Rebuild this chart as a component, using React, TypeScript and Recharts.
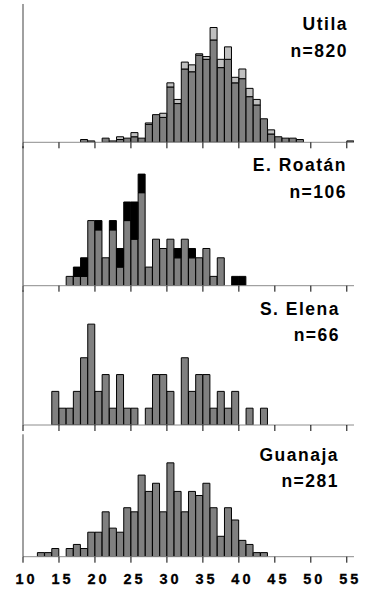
import { BarChart, Bar, XAxis, YAxis } from "recharts";

// 1-unit bins, left edge of each bin
const BINS = [
  10, 11, 12, 13, 14, 15, 16, 17, 18, 19,
  20, 21, 22, 23, 24, 25, 26, 27, 28, 29,
  30, 31, 32, 33, 34, 35, 36, 37, 38, 39,
  40, 41, 42, 43, 44, 45, 46, 47, 48, 49,
  50, 51, 52, 53, 54, 55,
];
const X_TICKS = [10, 15, 20, 25, 30, 35, 40, 45, 50, 55];
const X_DOMAIN = [10, 56];

const SITES = ["Utila", "E. Roatán", "S. Elena", "Guanaja"];
const SAMPLE_SIZES = [820, 106, 66, 281];

// counts per bin
const utilaDark = [
  0, 0, 0, 0, 0, 0, 0, 0, 2, 1,
  0, 3, 1, 2, 3, 4, 3, 13, 20, 18,
  40, 28, 53, 51, 63, 60, 74, 54, 60, 43,
  46, 33, 27, 17, 6, 4, 3, 3, 2, 0,
  0, 0, 0, 0, 0, 1,
];
const utilaLight = [
  0, 0, 0, 0, 0, 0, 0, 0, 0, 0,
  0, 0, 0, 2, 0, 3, 0, 1, 0, 3,
  3, 3, 5, 5, 1, 2, 9, 6, 9, 4,
  7, 6, 4, 0, 3, 0, 0, 0, 0, 0,
  0, 0, 0, 0, 0, 0,
];
const roatanGray = [
  0, 0, 0, 0, 0, 0, 1, 1, 1, 7,
  6, 3, 6, 2, 7, 5, 10, 2, 5, 4,
  5, 3, 5, 3, 3, 4, 1, 3, 0, 0,
  0, 0, 0, 0, 0, 0, 0, 0, 0, 0,
  0, 0, 0, 0, 0, 0,
];
const roatanBlack = [
  0, 0, 0, 0, 0, 0, 0, 1, 2, 0,
  1, 0, 1, 2, 2, 4, 2, 0, 0, 0,
  0, 1, 0, 1, 0, 0, 0, 0, 0, 1,
  1, 0, 0, 0, 0, 0, 0, 0, 0, 0,
  0, 0, 0, 0, 0, 0,
];
const elena = [
  0, 0, 0, 0, 2, 1, 1, 2, 4, 6,
  2, 3, 1, 3, 1, 1, 0, 1, 3, 3,
  2, 0, 4, 2, 3, 3, 1, 2, 1, 2,
  0, 1, 0, 1, 0, 0, 0, 0, 0, 0,
  0, 0, 0, 0, 0, 0,
];
const guanaja = [
  0, 0, 1, 1, 2, 0, 2, 3, 2, 6,
  6, 11, 7, 6, 12, 11, 20, 16, 18, 11,
  23, 16, 11, 16, 15, 18, 12, 5, 12, 9,
  4, 3, 1, 1, 0, 0, 0, 0, 0, 0,
  0, 0, 0, 0, 0, 0,
];

const GRAY = "#808080";
const LIGHT = "#c0c0c0";
const BLACK = "#000000";
const FONT = "'Liberation Sans', Arial, sans-serif";
const W = 368;
const M_LEFT = 22;
const M_RIGHT = 14;
const Y_AXIS_W = 1;
const PLOT_LEFT = M_LEFT + Y_AXIS_W;
const PLOT_RIGHT = W - M_RIGHT;
const AXIS_H = 30;
const TICK_LEN = 6;

function toRows(base: number[], cap?: number[]) {
  return BINS.map((bin, i) => ({ x: bin + 0.5, base: base[i], cap: cap ? cap[i] : 0 }));
}

const renderTick = (props: any) => {
  const { x, y, payload } = props;
  return (
    <text x={x - 7.5} y={y + 19} textAnchor="start" fontFamily={FONT} fontWeight="bold" fontSize={14.5} letterSpacing={3} fill="#000" stroke="#000" strokeWidth={0.3}>
      {payload.value}
    </text>
  );
};

interface PanelProps {
  top: number;
  mt: number;
  plotH: number;
  yMax: number;
  rows: { x: number; base: number; cap: number }[];
  capFill?: string;
  labels?: boolean;
}

function Panel({ top, mt, plotH, yMax, rows, capFill, labels }: PanelProps) {
  const mb = labels ? 4 : 1;
  const height = mt + plotH + (labels ? AXIS_H : 0) + mb;
  return (
    <div style={{ position: "absolute", left: 0, top }}>
      <BarChart width={W} height={height} data={rows} margin={{ top: mt, right: M_RIGHT, bottom: mb, left: M_LEFT }} barCategoryGap={0} barGap={0}>
        <XAxis
          type="number"
          dataKey="x"
          domain={X_DOMAIN}
          ticks={X_TICKS}
          interval={0}
          allowDataOverflow
          hide={!labels}
          height={labels ? AXIS_H : 0}
          tickSize={TICK_LEN}
          tickLine={{ stroke: "#000" }}
          axisLine={{ stroke: "#8c8c8c" }}
          tick={renderTick}
        />
        <YAxis type="number" domain={[0, yMax]} allowDataOverflow width={Y_AXIS_W} tick={false} tickLine={false} axisLine={{ stroke: "#404040" }} />
        <Bar dataKey="base" stackId="s" fill={GRAY} stroke="#000" strokeWidth={1} isAnimationActive={false} />
        {capFill && <Bar dataKey="cap" stackId="s" fill={capFill} stroke="#000" strokeWidth={1} isAnimationActive={false} />}
      </BarChart>
    </div>
  );
}

const PANELS = [
  { top: 0, mt: 4, plotH: 138.3 },
  { top: 140, mt: 6.2, plotH: 139.5 },
  { top: 284, mt: 6.5, plotH: 134.5 },
  { top: 428, mt: 6.3, plotH: 122.4 },
];

const TITLES = [
  { x: 348, y1: 30, y2: 57 },
  { x: 347, y1: 171, y2: 198 },
  { x: 340, y1: 315, y2: 341 },
  { x: 339, y1: 461, y2: 487 },
];

const tickX = (t: number) => PLOT_LEFT + ((t - X_DOMAIN[0]) / (X_DOMAIN[1] - X_DOMAIN[0])) * (PLOT_RIGHT - PLOT_LEFT);

export default function App() {
  return (
    <div style={{ position: "absolute", left: 0, top: 0, width: W, height: 591, background: "#fff" }}>
      <Panel {...PANELS[3]} yMax={30} rows={toRows(guanaja)} labels />
      <Panel {...PANELS[2]} yMax={8} rows={toRows(elena)} />
      <Panel {...PANELS[1]} yMax={15} rows={toRows(roatanGray, roatanBlack)} capFill={BLACK} />
      <Panel {...PANELS[0]} yMax={100} rows={toRows(utilaDark, utilaLight)} capFill={LIGHT} />
      <svg width={W} height={591} style={{ position: "absolute", left: 0, top: 0, pointerEvents: "none" }}>
        {/* baselines and ticks of the three upper panels */}
        {PANELS.slice(0, 3).map((p, i) => {
          const base = p.top + p.mt + p.plotH;
          return (
            <g key={i}>
              <line x1={PLOT_LEFT} x2={PLOT_RIGHT} y1={base} y2={base} stroke="#8c8c8c" />
              {X_TICKS.map((t) => (
                <line key={t} x1={tickX(t)} x2={tickX(t)} y1={base} y2={base + TICK_LEN} stroke="#000" />
              ))}
            </g>
          );
        })}
        {TITLES.map((t, i) => (
          <g key={SITES[i]} fontFamily={FONT} fontWeight="bold" fontSize={17.5} letterSpacing={1.5} textAnchor="end" fill="#000">
            <text x={t.x} y={t.y1}>{SITES[i]}</text>
            <text x={t.x} y={t.y2}>{`n=${SAMPLE_SIZES[i]}`}</text>
          </g>
        ))}
      </svg>
    </div>
  );
}
